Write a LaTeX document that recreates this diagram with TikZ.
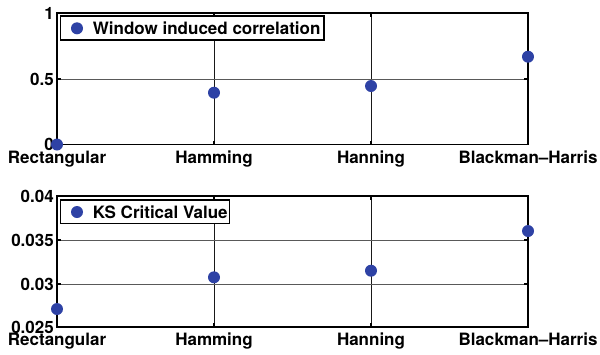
\documentclass[tikz,border=0pt]{standalone}
\usepackage{fontspec}
\setmainfont{TeX Gyre Heros}
\definecolor{mblue}{RGB}{46,66,165}
\begin{document}
\begin{tikzpicture}[x=1pt,y=-1pt,
  pt/.style={circle,fill=mblue,draw=none,minimum size=12pt,inner sep=0pt},
  axbox/.style={line width=1.6pt,line join=miter,draw=black},
  gridv/.style={line width=1pt,draw=black!90},
  gridh/.style={line width=1pt,draw=black!65},
  tickm/.style={line width=1.2pt,draw=black},
  lab/.style={font=\fontsize{17}{20}\selectfont\bfseries,inner sep=0pt},
  legbox/.style={draw=black,line width=1.4pt,fill=white}]
\useasboundingbox (0,0) rectangle (600,354);
% ---------- top plot ----------
\draw[gridv] (214,13) -- (214,144.5);
\draw[gridv] (371,13) -- (371,144.5);
\draw[gridh] (57,79) -- (528,79);
\foreach \yy in {79} {\draw[tickm] (57,\yy) -- (61,\yy); \draw[tickm] (524,\yy) -- (528,\yy);}
\foreach \xx in {214,371} {\draw[tickm] (\xx,13) -- (\xx,17); \draw[tickm] (\xx,140.5) -- (\xx,144.5);}
\draw[axbox] (57,13) rectangle (528,144.5);
\node[lab,anchor=east] (ta1) at (54,13) {1};
\node[lab,anchor=east] (ta2) at (54,79) {0.5};
\node[lab,anchor=east] (ta3) at (54,144.5) {0};
\node[lab,anchor=base] (xa1) at (57,163) {Rectangular};
\node[lab,anchor=base] (xa2) at (214,163) {Hamming};
\node[lab,anchor=base] (xa3) at (371,163) {Hanning};
\node[lab,anchor=base] (xa4) at (528,163) {Blackman\textendash Harris};
\node[pt] (pa1) at (57,144.5) {};
\node[pt] (pa2) at (214,92.7) {};
\node[pt] (pa3) at (371,86) {};
\node[pt] (pa4) at (528,56.7) {};
\draw[legbox] (60.7,16) rectangle (324,40);
\node[pt] (la) at (77,28.3) {};
\node[lab,anchor=base west] (lta) at (92.7,34.3) {Window induced correlation};
% ---------- bottom plot ----------
\draw[gridv] (214,196) -- (214,327);
\draw[gridv] (371,196) -- (371,327);
\draw[gridh] (57,240) -- (528,240);
\draw[gridh] (57,284) -- (528,284);
\foreach \yy in {240,284} {\draw[tickm] (57,\yy) -- (61,\yy); \draw[tickm] (524,\yy) -- (528,\yy);}
\foreach \xx in {214,371} {\draw[tickm] (\xx,196) -- (\xx,200); \draw[tickm] (\xx,323) -- (\xx,327);}
\draw[axbox] (57,196) rectangle (528,327);
\node[lab,anchor=east] (tb1) at (54,196) {0.04};
\node[lab,anchor=east] (tb2) at (54,240) {0.035};
\node[lab,anchor=east] (tb3) at (54,284) {0.03};
\node[lab,anchor=east] (tb4) at (54,327.5) {0.025};
\node[lab,anchor=base] (xb1) at (57,345.5) {Rectangular};
\node[lab,anchor=base] (xb2) at (214,345.5) {Hamming};
\node[lab,anchor=base] (xb3) at (371,345.5) {Hanning};
\node[lab,anchor=base] (xb4) at (528,345.5) {Blackman\textendash Harris};
\node[pt] (pb1) at (57,309) {};
\node[pt] (pb2) at (214,277.3) {};
\node[pt] (pb3) at (371,270.7) {};
\node[pt] (pb4) at (528,231) {};
\draw[legbox] (60.7,200) rectangle (229.3,223.3);
\node[pt] (lb) at (77,212) {};
\node[lab,anchor=base west] (ltb) at (92.7,218.3) {KS Critical Value};
\end{tikzpicture}
\end{document}
